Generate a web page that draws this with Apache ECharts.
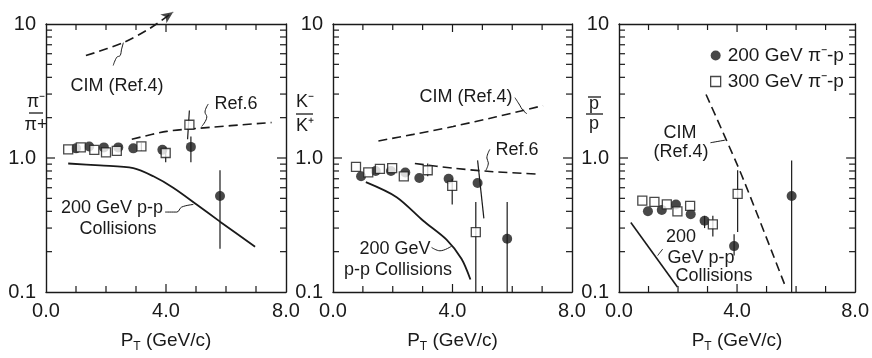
<!DOCTYPE html>
<html>
<head>
<meta charset="utf-8">
<script src="https://cdn.jsdelivr.net/npm/echarts@6/dist/echarts.min.js"></script>
<style>
  html, body { margin: 0; background: #fff; }
  #chart { width: 872px; height: 358px; }
</style>
</head>
<body>
<div id="chart"></div>
<script>
// tick values
const xTicks = [1, 2, 3, 4, 5, 6, 7]
const xLabels = [0, 4, 8]
const yTicks = [0.2, 0.3, 0.4, 0.5, 0.6, 0.7, 0.8, 0.9, 1, 2, 3, 4, 5, 6, 7, 8, 9]
const yLabels = [0.1, 1, 10]

const seriesNames = ['200 GeV π⁻-p', '300 GeV π⁻-p']

// panel 1 : pi-/pi+
const piCirc = [[1.0, 1.18], [1.44, 1.22], [1.93, 1.20], [2.41, 1.20], [2.91, 1.18], [3.88, 1.15], [4.83, 1.21], [5.8, 0.52]]
const piSq = [[0.74, 1.16], [1.16, 1.20], [1.61, 1.15], [2.0, 1.10], [2.36, 1.13], [3.18, 1.22], [3.99, 1.09], [4.78, 1.77]]
const piErr = [[3.18, 1.13, 1.30], [3.99, 0.93, 1.20], [4.78, 1.38, 2.26, 4.72], [4.83, 0.93, 1.45], [5.8, 0.21, 0.81]]
const piPP = [[0.74, 0.91], [1.8, 0.88], [2.91, 0.84], [3.58, 0.73], [4.24, 0.60], [5.02, 0.45], [5.8, 0.335], [6.97, 0.218]]
const piRef6 = [[2.86, 1.38], [4.02, 1.58], [5.13, 1.67], [7.52, 1.84]]
const piCim = [[1.33, 5.81], [2.58, 7.26], [3.47, 9.3], [4.24, 12.3]]

// panel 2 : K-/K+
const kCirc = [[0.94, 0.73], [1.43, 0.80], [1.94, 0.80], [2.42, 0.78], [2.89, 0.71], [3.87, 0.70], [4.84, 0.65], [5.83, 0.25]]
const kSq = [[0.77, 0.86], [1.18, 0.78], [1.57, 0.83], [1.98, 0.84], [2.37, 0.73], [3.17, 0.81], [3.99, 0.62], [4.78, 0.28]]
const kErr = [[3.17, 0.73, 0.91], [3.99, 0.45, 0.70], [4.78, 0.1, 0.47], [4.84, 0.354, 0.96, 5.05], [5.83, 0.1, 0.47]]
const kPP = [[1.10, 0.66], [2.13, 0.51], [3.02, 0.34], [3.80, 0.246], [4.30, 0.177], [4.60, 0.124]]
const kRef6 = [[2.74, 0.91], [4.02, 0.84], [5.36, 0.79], [6.81, 0.76]]
const kCim = [[1.52, 1.34], [2.69, 1.50], [4.02, 1.72], [5.47, 2.03], [7.03, 2.46]]

// panel 3 : pbar/p
const pCirc = [[0.98, 0.40], [1.45, 0.41], [1.93, 0.45], [2.43, 0.38], [2.90, 0.34], [3.90, 0.22], [5.85, 0.52]]
const pSq = [[0.79, 0.48], [1.20, 0.47], [1.62, 0.45], [1.98, 0.40], [2.41, 0.44], [3.18, 0.32], [4.02, 0.54]]
const pErr = [[2.9, 0.30, 0.37], [3.18, 0.26, 0.37], [3.90, 0.187, 0.27], [4.02, 0.28, 0.81], [5.85, 0.1, 0.96]]
const pPP = [[0.40, 0.33], [1.98, 0.109]]
const pCim = [[2.95, 2.98], [4.15, 0.75], [5.66, 0.107]]

// little wiggly pointers from the labels to the curves
const lead1Cim = [[2.24, 4.9], [2.36, 5.65], [2.47, 5.81], [2.52, 6.49], [2.58, 7.26]]
const lead1Ref6 = [[5.41, 2.53], [5.30, 2.20], [5.36, 2.03], [5.19, 1.72]]
const lead1PP = [[3.97, 0.395], [4.36, 0.395], [4.52, 0.43], [4.91, 0.45]]
const lead2Cim = [[6.09, 2.82], [6.25, 2.48], [6.35, 2.28], [6.49, 2.14]]
const lead2Ref6 = [[5.25, 1.16], [5.15, 1.0], [5.2, 0.92], [5.12, 0.81]]
const lead2PP = [[3.30, 0.215], [3.58, 0.203], [3.97, 0.22]]
const lead3Cim = [[3.10, 1.30], [3.60, 1.36]]
const lead3PP = [[1.31, 0.187], [1.48, 0.209]]

const font = '"Liberation Sans", Arial, sans-serif'
const ink = '#1a1a1a'

const chart = echarts.init(document.getElementById('chart'))

const grids = [
  { left: 46, top: 24, width: 240, height: 277 },
  { left: 333, top: 24, width: 239, height: 277 },
  { left: 619, top: 24, width: 239, height: 277 }
]

const xAxes = []
const yAxes = []
grids.forEach((g, i) => {
  const line = { show: true, onZero: false, lineStyle: { color: ink, width: 1.4 } }
  xAxes.push({
    gridIndex: i, type: 'value', min: 0, max: 8, interval: 1, position: 'bottom',
    axisLine: line,
    axisTick: { show: false },
    axisLabel: { customValues: xLabels, formatter: v => v.toFixed(1), color: ink, fontSize: 20, fontFamily: font, margin: 9 },
    splitLine: { show: false },
    name: '{a|P}{s|T}{a| (GeV/c)}',
    nameLocation: 'middle',
    nameGap: 37,
    nameTextStyle: {
      rich: {
        a: { fontSize: 19, fontFamily: font, color: ink, lineHeight: 24 },
        s: { fontSize: 12, fontFamily: font, color: ink, lineHeight: 14, verticalAlign: 'bottom' }
      }
    }
  })
  xAxes.push({
    gridIndex: i, type: 'value', min: 0, max: 8, position: 'top',
    axisLine: line, axisTick: { show: false }, axisLabel: { show: false }, splitLine: { show: false }
  })
  yAxes.push({
    gridIndex: i, type: 'log', logBase: 10, min: 0.1, max: 10, position: 'left',
    axisLine: line,
    axisTick: { show: false },
    axisLabel: { customValues: yLabels, formatter: v => (v >= 10 ? '10' : v.toFixed(1)), color: ink, fontSize: 20, fontFamily: font, margin: 10 },
    splitLine: { show: false }
  })
  yAxes.push({
    gridIndex: i, type: 'log', logBase: 10, min: 0.1, max: 10, position: 'right',
    axisLine: line, axisTick: { show: false }, axisLabel: { show: false }, splitLine: { show: false }
  })
})

// inward tick marks on all four sides; one item per panel, every tick placed with api.coord
const tickSeries = i => ({
  type: 'custom', xAxisIndex: 2 * i, yAxisIndex: 2 * i, z: 100, zlevel: 1, silent: true,
  data: [[4, 1]],
  encode: { x: 0, y: 1 },
  renderItem: (params, api) => {
    const s = { stroke: ink, lineWidth: 1.2 }
    const children = []
    yTicks.forEach(v => {
      const len = v === 1 ? 9 : 6
      const l = api.coord([0, v])
      const r = api.coord([8, v])
      children.push({ type: 'line', shape: { x1: l[0], y1: l[1], x2: l[0] + len, y2: l[1] }, style: s })
      children.push({ type: 'line', shape: { x1: r[0] - len, y1: r[1], x2: r[0], y2: r[1] }, style: s })
    })
    xTicks.forEach(v => {
      const len = v === 4 ? 8 : 6
      const b = api.coord([v, 0.1])
      const t = api.coord([v, 10])
      children.push({ type: 'line', shape: { x1: b[0], y1: b[1], x2: b[0], y2: b[1] - len }, style: s })
      children.push({ type: 'line', shape: { x1: t[0], y1: t[1], x2: t[0], y2: t[1] + len }, style: s })
    })
    return { type: 'group', children: children }
  }
})

const errBars = (i, data) => ({
  type: 'custom', xAxisIndex: 2 * i, yAxisIndex: 2 * i, z: 1, silent: true,
  data: data.map(d => [d[0], d[1], d[2], d.length > 3 ? d[3] : d[0]]),
  encode: { x: 0, y: [1, 2] },
  renderItem: (params, api) => {
    const lo = api.coord([api.value(3), api.value(1)])
    const hi = api.coord([api.value(0), api.value(2)])
    return { type: 'line', shape: { x1: lo[0], y1: lo[1], x2: hi[0], y2: hi[1] }, style: { stroke: ink, lineWidth: 1.2 } }
  }
})

const points = (i, circ, sq) => [
  {
    name: seriesNames[0], type: 'scatter', xAxisIndex: 2 * i, yAxisIndex: 2 * i, z: 3,
    symbol: 'circle', symbolSize: 10, itemStyle: { color: ink }, data: circ
  },
  {
    name: seriesNames[1], type: 'scatter', xAxisIndex: 2 * i, yAxisIndex: 2 * i, z: 4,
    symbol: 'rect', symbolSize: 9, itemStyle: { color: '#fff', borderColor: ink, borderWidth: 1.3 }, data: sq
  }
]

const curve = (i, data, dashed, smooth, width) => ({
  type: 'line', xAxisIndex: 2 * i, yAxisIndex: 2 * i, z: 2, silent: true,
  symbol: 'none', smooth: smooth, clip: false, data: data,
  lineStyle: { color: ink, width: width || 1.6, type: dashed ? [9, 5] : 'solid' }
})

const series = [
  tickSeries(0), tickSeries(1), tickSeries(2),

  errBars(0, piErr), ...points(0, piCirc, piSq),
  curve(0, piPP, false, 0.3, 1.8), curve(0, piRef6, true, 0.3), curve(0, piCim, true, 0.3),
  {
    type: 'scatter', xAxisIndex: 0, yAxisIndex: 0, silent: true, clip: false,
    symbol: 'arrow', symbolSize: [8, 12], symbolRotate: -55, itemStyle: { color: ink },
    data: [piCim[piCim.length - 1]]
  },
  curve(0, lead1Cim, false, 0.4, 1), curve(0, lead1Ref6, false, 0.4, 1), curve(0, lead1PP, false, 0.4, 1),

  errBars(1, kErr), ...points(1, kCirc, kSq),
  curve(1, kPP, false, 0.3, 1.8), curve(1, kRef6, true, 0.3), curve(1, kCim, true, 0.3),
  curve(1, lead2Cim, false, 0.4, 1), curve(1, lead2Ref6, false, 0.4, 1), curve(1, lead2PP, false, 0.4, 1),

  errBars(2, pErr), ...points(2, pCirc, pSq),
  curve(2, pPP, false, 0, 1.6), curve(2, pCim, true, 0.2),
  curve(2, lead3Cim, false, 0.4, 1), curve(2, lead3PP, false, 0.4, 1)
]

const label = (x, y, text, size) => ({
  type: 'text', x: x, y: y, z: 10, silent: true,
  style: { text: text, align: 'center', verticalAlign: 'middle', fontSize: size || 18, fontFamily: font, fill: ink }
})
const bar = (x1, x2, y) => ({
  type: 'line', z: 10, silent: true, shape: { x1: x1, y1: y, x2: x2, y2: y }, style: { stroke: ink, lineWidth: 1.3 }
})

const option = {
  animation: false,
  backgroundColor: '#fff',
  grid: grids,
  xAxis: xAxes,
  yAxis: yAxes,
  legend: {
    orient: 'vertical', left: 705, top: 41, itemGap: 7, itemWidth: 10, itemHeight: 10,
    selectedMode: false,
    textStyle: { fontSize: 19, fontFamily: font, color: ink, padding: [0, 0, 0, 2] },
    data: [
      { name: seriesNames[0], icon: 'circle' },
      { name: seriesNames[1], icon: 'rect', itemStyle: { color: '#fff', borderColor: ink, borderWidth: 1.3 } }
    ]
  },
  graphic: [
    // y axis titles
    label(36, 102, 'π⁻', 18), bar(29, 43, 113), label(36, 125, 'π+', 18),
    label(305, 102, 'K⁻', 18), bar(296, 313, 114), label(305, 126, 'K⁺', 18),
    bar(588, 601, 97), label(594, 104, 'p', 18), bar(586, 603, 114), label(594, 124, 'p', 18),
    // panel 1 notes
    label(117, 86, 'CIM (Ref.4)'), label(236, 104, 'Ref.6'),
    label(112, 208, '200 GeV p-p'), label(118, 229, 'Collisions'),
    // panel 2 notes
    label(466, 97, 'CIM (Ref.4)'), label(517, 150, 'Ref.6'),
    label(395, 249, '200 GeV'), label(398, 270, 'p-p Collisions'),
    // panel 3 notes
    label(680, 133, 'CIM'), label(681, 152, '(Ref.4)'),
    label(681, 237, '200'), label(701, 258, 'GeV p-p'), label(714, 276, 'Collisions')
  ],
  series: series
}

chart.setOption(option)
</script>
</body>
</html>
